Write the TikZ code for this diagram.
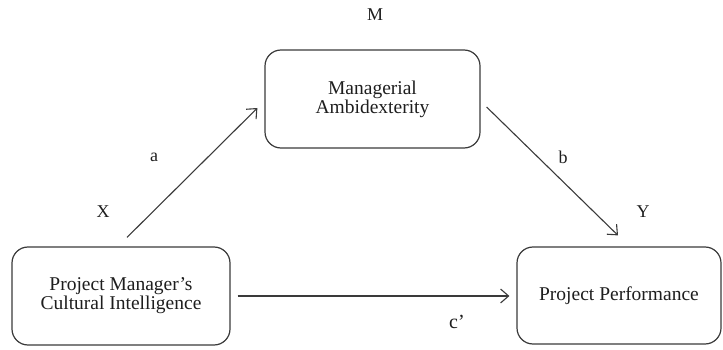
\documentclass[tikz,border=0pt]{standalone}
\usepackage{fontspec}
\setmainfont{Liberation Serif}
\usetikzlibrary{arrows.meta,calc}

\definecolor{edge}{HTML}{3A3A3A}
\definecolor{ink}{HTML}{1E1E1E}

\tikzset{
  varbox/.style={draw=edge, line width=1.2pt, rounded corners=16pt,
    inner sep=0pt, align=center, text=ink,
    font=\rmfamily\fontsize{19.5}{19}\selectfont},
  tag/.style={text=ink, inner sep=0pt, font=\rmfamily\fontsize{18}{18}\selectfont},
  path/.style={draw=edge, line width=1.1pt,
    -{Straight Barb[length=8pt,width=14pt,line width=1.1pt]}}
}

\begin{document}
\begin{tikzpicture}[x=1pt,y=-1pt]
  \useasboundingbox (0,0) rectangle (723,350);

  % variables
  \node[varbox, minimum width=215pt, minimum height=98pt] (M) at (372.5,99)
    {Managerial\\Ambidexterity};
  \node[varbox, minimum width=218pt, minimum height=98pt] (X) at (121,296)
    {Project Manager’s\\Cultural Intelligence};
  \node[varbox, minimum width=204pt, minimum height=97pt] (Y) at (619,295.5)
    {Project Performance};

  % path labels
  \node[tag] (lM) at (375,15) {M};
  \node[tag] (lX) at (103,212) {X};
  \node[tag] (lY) at (643,212) {Y};
  \node[tag] (la) at (154,157) {a};
  \node[tag] (lb) at (563,157) {b};
  \node[tag, font=\rmfamily\fontsize{20}{20}\selectfont] (lc) at (457,322) {c’};

  % paths
  \draw[path] ($(X.north)+(6,-9)$) -- ($(M.west)+(-7,9)$);
  \draw[path] ($(M.east)+(6,8)$) -- ($(Y.north)+(-1,-11)$);
  \draw[path] ($(X.east)+(7,0)$) -- ($(X.east -| Y.west)+(-7,0)$);
\end{tikzpicture}
\end{document}
